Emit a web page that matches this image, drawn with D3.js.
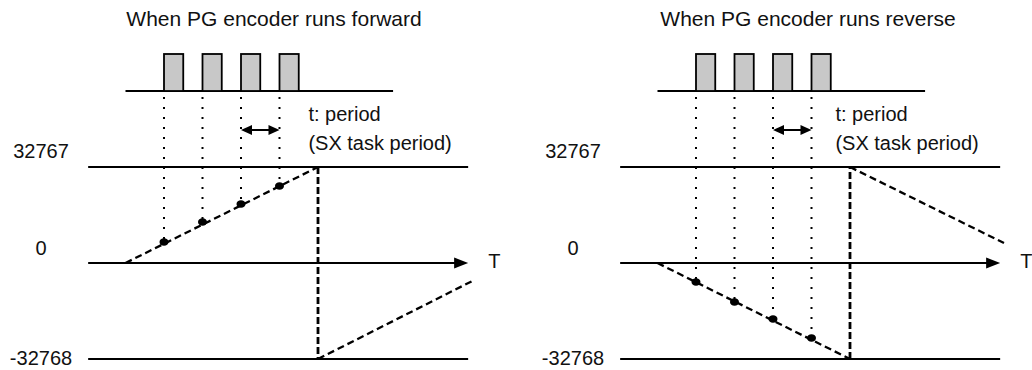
<!DOCTYPE html>
<html>
<head>
<meta charset="utf-8">
<script src="https://cdn.jsdelivr.net/npm/d3@7"></script>
<style>
  html, body { margin: 0; padding: 0; background: #fff; }
  svg { display: block; font-family: "Liberation Sans", Arial, sans-serif; }
</style>
</head>
<body>
<svg id="chart" width="1032" height="370"></svg>
<script>
// ---------- data ----------
const panelTitles = ["When PG encoder runs forward", "When PG encoder runs reverse"];
const yTickValues = [32767, 0, -32768];
const yTickLabels = ["32767", "0", "-32768"];
const axisLabel = "T";
const periodLabel = ["t: period", "(SX task period)"];
const pulseTimes = [1, 2, 3, 4];          // rising edges (in task periods)
const pulseWidth = 0.5;
const periodArrow = [3, 4];

// forward
const fwdRamp = [[0, 0], [5, 32767]];
const fwdWrap = [[5, 32767], [5, -32768]];
const fwdNext = [[5, -32768], [9, -6200]];
const fwdSamples = [[1, 7168], [2, 13994], [3, 20138], [4, 26282]];
// reverse
const revRamp = [[0, 0], [5, -32768]];
const revWrap = [[5, -32768], [5, 32767]];
const revNext = [[5, 32767], [9, 6800]];
const revSamples = [[1, -6485], [2, -13312], [3, -19115], [4, -25600]];

const panels = [
  { title: panelTitles[0], ramp: fwdRamp, wrap: fwdWrap, next: fwdNext, samples: fwdSamples, offset: 0, labelShift: 0 },
  { title: panelTitles[1], ramp: revRamp, wrap: revWrap, next: revNext, samples: revSamples, offset: 532, labelShift: -5 }
];

// ---------- drawing ----------
const svg = d3.select("#chart");
const y = d3.scaleLinear().domain([-32768, 32767]).range([359, 167]);
const pulseBase = 91, pulseTop = 54;
const FS = 20;

panels.forEach(p => {
  const x = d3.scaleLinear().domain([-1, 9]).range([87 + p.offset, 472 + p.offset]);
  const g = svg.append("g");
  const line = d3.line().x(d => x(d[0])).y(d => y(d[1]));

  // title
  g.append("text").attr("x", 274 + p.offset + (p.offset ? 2 : 0)).attr("y", 26)
    .attr("text-anchor", "middle").attr("font-size", 21).attr("fill", "#111")
    .text(p.title);

  // pulse train baseline
  g.append("line").attr("x1", x(0)).attr("x2", x(6.95))
    .attr("y1", pulseBase).attr("y2", pulseBase)
    .attr("stroke", "#000").attr("stroke-width", 2);
  g.selectAll("rect.pulse").data(pulseTimes).join("rect")
    .attr("x", d => x(d)).attr("y", pulseTop)
    .attr("width", d => x(d + pulseWidth) - x(d)).attr("height", pulseBase - pulseTop)
    .attr("fill", "#c8c8c8").attr("stroke", "#000").attr("stroke-width", 1.8);

  // dotted drop lines
  g.selectAll("line.drop").data(p.samples).join("line")
    .attr("x1", d => x(d[0])).attr("x2", d => x(d[0]))
    .attr("y1", pulseBase + 6).attr("y2", d => y(d[1]))
    .attr("stroke", "#000").attr("stroke-width", 2)
    .attr("stroke-dasharray", "2 8");

  // period double arrow
  const ay = 130, ah = 11, aw = 5;
  const ax1 = x(periodArrow[0]), ax2 = x(periodArrow[1]);
  g.append("line").attr("x1", ax1 + ah - 2).attr("x2", ax2 - ah + 2).attr("y1", ay).attr("y2", ay)
    .attr("stroke", "#000").attr("stroke-width", 2);
  g.append("path").attr("d", `M${ax1},${ay}L${ax1 + ah},${ay - aw}L${ax1 + ah},${ay + aw}Z`).attr("fill", "#000");
  g.append("path").attr("d", `M${ax2},${ay}L${ax2 - ah},${ay - aw}L${ax2 - ah},${ay + aw}Z`).attr("fill", "#000");

  // period label
  g.append("text").attr("x", x(4.75) + p.labelShift).attr("y", 121).attr("font-size", FS).attr("fill", "#111").text(periodLabel[0]);
  g.append("text").attr("x", x(4.75) + p.labelShift).attr("y", 150).attr("font-size", FS).attr("fill", "#111").text(periodLabel[1]);

  // horizontal reference lines
  const xStart = x(-0.97), xEnd = x(8.9);
  [32767, -32768].forEach(v => {
    g.append("line").attr("x1", xStart).attr("x2", xEnd).attr("y1", y(v)).attr("y2", y(v))
      .attr("stroke", "#000").attr("stroke-width", 2);
  });
  // zero axis with arrow
  g.append("line").attr("x1", xStart).attr("x2", xEnd - 10).attr("y1", y(0)).attr("y2", y(0))
    .attr("stroke", "#000").attr("stroke-width", 2);
  g.append("path").attr("d", `M${xEnd},${y(0)}L${xEnd - 14},${y(0) - 5.5}L${xEnd - 14},${y(0) + 5.5}Z`).attr("fill", "#000");
  g.append("text").attr("x", xEnd + 20).attr("y", y(0) + 5).attr("font-size", FS).attr("fill", "#111").text(axisLabel);

  // y tick labels
  const labelDy = [-9, -8, 6];
  yTickValues.forEach((v, i) => {
    g.append("text").attr("x", 41 + p.offset).attr("y", y(v) + labelDy[i])
      .attr("text-anchor", "middle").attr("font-size", FS).attr("fill", "#111")
      .text(yTickLabels[i]);
  });

  // dashed counter curve
  g.append("path").attr("d", line(p.ramp)).attr("fill", "none")
    .attr("stroke", "#000").attr("stroke-width", 2.3).attr("stroke-dasharray", "7 4");
  g.append("path").attr("d", line(p.wrap)).attr("fill", "none")
    .attr("stroke", "#000").attr("stroke-width", 2.8).attr("stroke-dasharray", "7 3");
  g.append("path").attr("d", line(p.next)).attr("fill", "none")
    .attr("stroke", "#000").attr("stroke-width", 2.3).attr("stroke-dasharray", "7 4");

  // sampled points
  g.selectAll("ellipse.sample").data(p.samples).join("ellipse")
    .attr("cx", d => x(d[0])).attr("cy", d => y(d[1]))
    .attr("rx", 4.5).attr("ry", 3.8).attr("fill", "#000");
});
</script>
</body>
</html>
